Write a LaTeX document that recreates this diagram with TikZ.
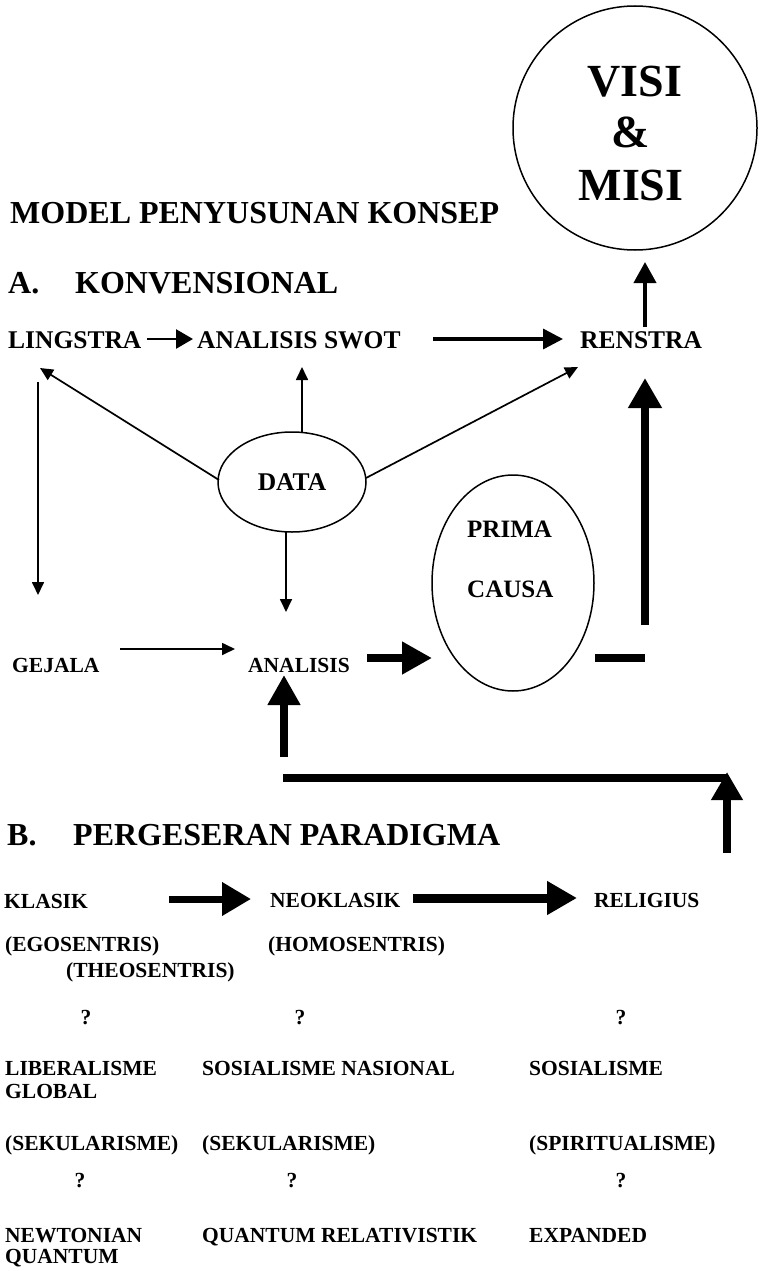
\documentclass[tikz,border=0pt]{standalone}
\usepackage{fontspec}
\setmainfont{Liberation Serif}
\usetikzlibrary{arrows.meta,shapes.geometric}
\newcommand\setfs[1]{\fontsize{#1}{#1}\selectfont}
\begin{document}
\begin{tikzpicture}[x=1pt,y=-1pt,
  txt/.style={inner sep=0pt,anchor=base west},
  hd/.style={txt,font=\bfseries\setfs{32}},
  la/.style={txt,font=\bfseries\setfs{25.5}},
  lb/.style={txt,font=\bfseries\setfs{21.5}},
  qm/.style={inner sep=0pt,anchor=base,font=\bfseries\setfs{21.5}},
  big/.style={inner sep=0pt,anchor=base,font=\bfseries\setfs{46}},
  ring/.style={draw,line width=1.5pt},
  thinarr/.style={line width=1.7pt,-{Triangle[length=13pt,width=12pt]}},
  midarr/.style={line width=2.6pt,-{Triangle[length=17pt,width=19pt]}},
  medarr/.style={line width=3.4pt,-{Triangle[length=20pt,width=20pt]}},
  fatarr/.style={line width=8pt,-{Triangle[length=30pt,width=31pt]}},
  fatbar/.style={line width=8pt},
]
\useasboundingbox (0,0) rectangle (758,1271);

% VISI & MISI
\node[circle,ring,minimum size=244pt,inner sep=0pt] (visi) at (635,128) {};
\node[big] (visit) at (635,97) {VISI};
\node[big] (amp) at (631,147) {\&};
\node[big] (misit) at (631,200) {MISI};

% headings
\node[hd] (model) at (10,223) {MODEL PENYUSUNAN KONSEP};
\node[hd] (alab) at (8,293) {A.};
\node[hd] (konv) at (75,293) {KONVENSIONAL};
\node[hd] (blab) at (7,845) {B.};
\node[hd] (perg) at (73,845) {PERGESERAN PARADIGMA};

% section A labels
\node[la] (lingstra) at (8,348) {LINGSTRA};
\node[la] (swot) at (197,348) {ANALISIS SWOT};
\node[la] (renstra) at (580,348) {RENSTRA};
\node[ellipse,ring,minimum width=148pt,minimum height=100pt,inner sep=0pt,
      font=\bfseries\setfs{25.5}] (data) at (292,482) {\raisebox{-10pt}{DATA}};
\node[ellipse,ring,minimum width=162pt,minimum height=216pt,inner sep=0pt] (prima) at (513,583) {};
\node[la,font=\bfseries\setfs{25}] (primat) at (467,537) {PRIMA};
\node[la,font=\bfseries\setfs{25}] (causat) at (467,597) {CAUSA};
\node[lb] (gejala) at (12,672) {GEJALA};
\node[lb] (analisis) at (248,672) {ANALISIS};

% connector end points
\coordinate (a1s) at (147,339); \coordinate (a1e) at (193,339);
\coordinate (a2s) at (433,339); \coordinate (a2e) at (563,339);
\coordinate (a3s) at (219,480); \coordinate (a3e) at (40,368);
\coordinate (a4s) at (302,433); \coordinate (a4e) at (302,367);
\coordinate (a5s) at (366,478); \coordinate (a5e) at (578,367);
\coordinate (a6s) at (38,382);  \coordinate (a6e) at (38,595);
\coordinate (a7s) at (286,532); \coordinate (a7e) at (286,612);
\coordinate (a8s) at (120,649); \coordinate (a8e) at (235,649);
\coordinate (a9s) at (367,658); \coordinate (a9e) at (432,658);
\coordinate (b10s) at (595,658); \coordinate (b10e) at (645,658);
\coordinate (a11s) at (645,625); \coordinate (a11e) at (645,378);
\coordinate (a12s) at (645,327); \coordinate (a12e) at (645,262);
\coordinate (a13s) at (284,757); \coordinate (a13e) at (284,675);
\coordinate (b14s) at (283,778); \coordinate (b14e) at (727,778);
\coordinate (a15s) at (727,853); \coordinate (a15e) at (727,772);

\draw[midarr] (a1s) -- (a1e);
\draw[medarr] (a2s) -- (a2e);
\draw[thinarr] (a3s) -- (a3e);
\draw[thinarr] (a4s) -- (a4e);
\draw[thinarr] (a5s) -- (a5e);
\draw[thinarr] (a6s) -- (a6e);
\draw[thinarr] (a7s) -- (a7e);
\draw[thinarr] (a8s) -- (a8e);
\draw[fatarr] (a9s) -- (a9e);
\draw[fatbar] (b10s) -- (b10e);
\draw[fatarr,-{Triangle[length=30pt,width=32pt]}] (a11s) -- (a11e);
\draw[line width=4pt,-{Triangle[length=21pt,width=22pt]}] (a12s) -- (a12e);
\draw[fatarr] (a13s) -- (a13e);
\draw[fatbar] (b14s) -- (b14e);
\draw[fatarr,-{Triangle[length=28pt,width=30pt]}] (a15s) -- (a15e);

% section B
\node[lb] (klasik) at (4,908) {KLASIK};
\node[lb] (neo) at (270,907) {NEOKLASIK};
\node[lb] (relig) at (594,907) {RELIGIUS};
\coordinate (a16s) at (169,899); \coordinate (a16e) at (251,899);
\coordinate (a17s) at (413,898); \coordinate (a17e) at (577,898);
\draw[line width=7pt,-{Triangle[length=29pt,width=32pt]}] (a16s) -- (a16e);
\draw[line width=9pt,-{Triangle[length=30pt,width=32pt]}] (a17s) -- (a17e);

\node[lb] (ego) at (5,951) {(EGOSENTRIS)};
\node[lb] (homo) at (268,951) {(HOMOSENTRIS)};
\node[lb] (theo) at (66,977) {(THEOSENTRIS)};

\node[qm] (q1) at (86,1024) {?};
\node[qm] (q2) at (300,1024) {?};
\node[qm] (q3) at (621,1024) {?};

\node[lb] (lib) at (5,1075) {LIBERALISME};
\node[lb] (glob) at (5,1098) {GLOBAL};
\node[lb] (sosnas) at (202,1075) {SOSIALISME NASIONAL};
\node[lb] (sos) at (529,1075) {SOSIALISME};

\node[lb] (sek1) at (5,1150) {(SEKULARISME)};
\node[lb] (sek2) at (202,1150) {(SEKULARISME)};
\node[lb] (spir) at (529,1150) {(SPIRITUALISME)};

\node[qm] (q4) at (80,1187) {?};
\node[qm] (q5) at (292,1187) {?};
\node[qm] (q6) at (621,1187) {?};

\node[lb] (newt) at (5,1242) {NEWTONIAN};
\node[lb] (quan) at (5,1263) {QUANTUM};
\node[lb] (qrel) at (202,1242) {QUANTUM RELATIVISTIK};
\node[lb] (exp) at (529,1242) {EXPANDED};
\end{tikzpicture}
\end{document}
